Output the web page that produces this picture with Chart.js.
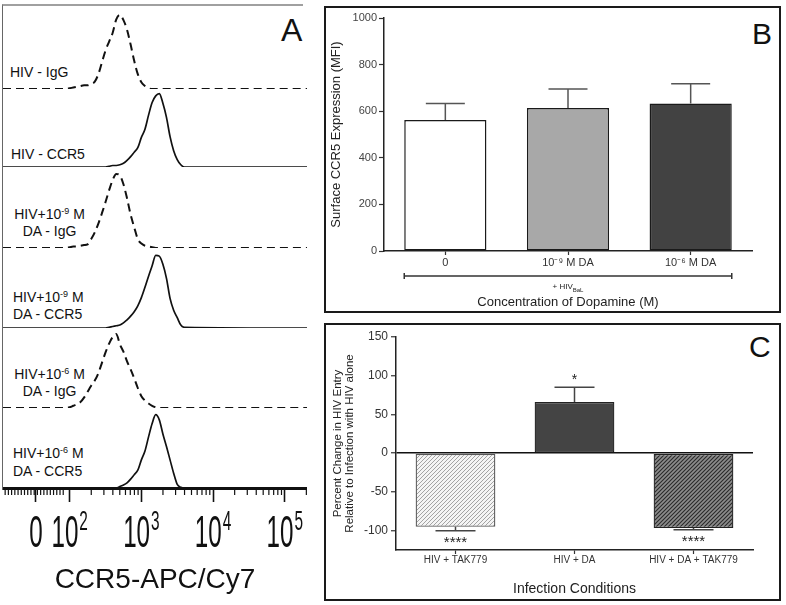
<!DOCTYPE html>
<html><head><meta charset="utf-8">
<script src="https://cdn.jsdelivr.net/npm/chart.js@4.4.1/dist/chart.umd.min.js"></script>
<style>
html,body{margin:0;padding:0;background:#fff;}
body{width:786px;height:605px;position:relative;overflow:hidden;font-family:"Liberation Sans",Arial,Helvetica,sans-serif;color:#111;}
canvas{position:absolute;}
.lbl{position:absolute;font-size:14px;line-height:17px;white-space:nowrap;color:#111;}
.lbl sup{font-size:9px;vertical-align:5px;line-height:0;}
.ctr{text-align:center;width:73px;}
.big{position:absolute;line-height:32px;color:#111;}
#frameA{position:absolute;left:2px;top:4px;width:300px;height:484px;border-top:2px solid #a0a0a0;border-left:1.5px solid #666;}
.box{position:absolute;border:2px solid #1a1a1a;box-sizing:border-box;}
</style></head><body>
<div id="frameA"></div>
<div class="box" style="left:324px;top:6px;width:457px;height:307px;"></div>
<div class="box" style="left:324px;top:323px;width:457px;height:278px;"></div>

<div class="lbl" style="left:10px;top:64px;">HIV - IgG</div>
<div class="lbl" style="left:11px;top:146px;">HIV - CCR5</div>
<div class="lbl ctr" style="left:13px;top:206px;">HIV+10<sup>-9</sup> M<br>DA - IgG</div>
<div class="lbl" style="left:13px;top:289px;">HIV+10<sup>-9</sup> M<br>DA - CCR5</div>
<div class="lbl ctr" style="left:13px;top:366px;">HIV+10<sup>-6</sup> M<br>DA - IgG</div>
<div class="lbl" style="left:13px;top:444px;line-height:18px;">HIV+10<sup>-6</sup> M<br>DA - CCR5</div>

<div class="big" style="left:281px;top:14px;font-size:32px;">A</div>
<div class="big" style="left:752px;top:18px;font-size:30px;">B</div>
<div class="big" style="left:749px;top:331px;font-size:30px;">C</div>

<script>
// ---------------- Panel A: flow cytometry histograms ----------------
// x values are log10 of CCR5-APC/Cy7 intensity (display units)
const logBins = [1.07,
  1.80,1.85,1.90,1.95,2.00,2.05,2.10,2.15,2.20,2.25,2.30,2.35,2.40,2.45,2.50,2.55,2.60,2.65,2.70,
  2.75,2.80,2.85,2.90,2.95,3.00,3.05,3.10,3.15,3.20,3.25,3.30,3.35,3.40,3.45,3.50,3.55,3.60,
  5.31];
// counts, % of mode
const hivIgG  = [0, 0,0,0,0, 1,2,3,4,5,5,7,10,20,36,52,64,76,94,100,93,80,60,38,20,9,4,1, 0,0,0,0,0,0,0,0,0,0, 0];
const hivCCR5 = [0, 0,0,0,0,0,0,0,0,0,0,0,0,0,0,0, 1,2,2,3,5,9,14,20,26,40,51,70,87,96,99,86,67,41,22,10,3, 0, 0];
const da9IgG  = [0, 0,0,0,0, 1,2,2,3,4,5,12,21,33,47,62,78,92,100,98,86,67,45,28,12,6,3,2,1, 0,0,0,0,0,0,0,0,0, 0];
const da9CCR5 = [0, 0,0,0,0,0,0,0,0,0,0,0,0,0,0,0, 1,2,3,4,7,11,16,22,30,41,55,70,84,98,97,86,67,40,24,14,4,1, 0];
const da6IgG  = [0, 0,0,0,0, 1,3,5,8,14,22,30,37,47,61,75,87,96,100,86,76,63,52,40,27,16,10,6,3,1, 0,0,0,0,0,0,0,0, 0];
const da6CCR5 = [0, 0,0,0,0,0,0,0,0,0,0,0,0,0,0,0,0,0, 0,2,4,7,12,18,24,38,50,69,87,99,92,73,56,38,20,5,1,0, 0];
const aTickPos = [1.53, 2, 3, 4, 5];
const aTickMain = ['0', '10', '10', '10', '10'];
const aTickExp = ['', '2', '3', '4', '5'];
const aXMin = 1.07, aXMax = 5.31;

// ---------------- Panel B ----------------
const bCats = ['0', '10⁻⁹ M DA', '10⁻⁶ M DA'];
const bMeans = [562, 614, 633];
const bSem = [71, 81, 85];

// ---------------- Panel C ----------------
const cCats = ['HIV + TAK779', 'HIV + DA', 'HIV + DA + TAK779'];
const cMeans = [-95, 66, -96.5];
const cSem = [5, 19, 2.5];
const cStars = ['****', '*', '****'];
const cTicks = [-100, -50, 0, 50, 100, 150];

Chart.defaults.font.family = '"Liberation Sans", Arial, Helvetica, sans-serif';
Chart.defaults.color = '#222';
Chart.defaults.animation = false;

// minor ticks of the logicle axis (axis decoration)
const aMinor = [];
for (let d = 1.10; d < 1.93; d += 0.045) aMinor.push(d);
for (let n = 2; n <= 5; n++) for (let k = 2; k <= 9; k++) { const v = n + Math.log10(k); if (v < aXMax) aMinor.push(v); }

const minorTicksPlugin = {
  id: 'minorTicks',
  afterDraw(chart) {
    const s = chart.scales.x, ctx = chart.ctx, y0 = s.top;
    ctx.save(); ctx.strokeStyle = '#111'; ctx.lineWidth = 1.2;
    aMinor.forEach(v => { const px = s.getPixelForValue(v); ctx.beginPath(); ctx.moveTo(px, y0); ctx.lineTo(px, y0 + 7); ctx.stroke(); });
    ctx.restore();
  }
};
// condensed tick labels (0, 10^2 ... 10^5) drawn at the scale's tick positions
const aLabelPlugin = {
  id: 'aLabels',
  afterDraw(chart) {
    const s = chart.scales.x, ctx = chart.ctx, base = s.top + 59, k = 0.55;
    const fMain = '44px "Liberation Sans", Arial', fExp = '28px "Liberation Sans", Arial';
    ctx.save(); ctx.fillStyle = '#111'; ctx.textBaseline = 'alphabetic'; ctx.textAlign = 'left';
    aTickPos.forEach((v, i) => {
      ctx.font = fMain; const wm = ctx.measureText(aTickMain[i]).width * k;
      ctx.font = fExp; const we = aTickExp[i] ? ctx.measureText(aTickExp[i]).width * k + 1 : 0;
      const x0 = s.getPixelForValue(v) - (wm + we) / 2;
      ctx.save(); ctx.translate(x0, base); ctx.scale(k, 1); ctx.font = fMain; ctx.fillText(aTickMain[i], 0, 0); ctx.restore();
      if (aTickExp[i]) { ctx.save(); ctx.translate(x0 + wm + 1, base - 17); ctx.scale(k, 1); ctx.font = fExp; ctx.fillText(aTickExp[i], 0, 0); ctx.restore(); }
    });
    ctx.restore();
  }
};

const aTraces = [hivIgG, hivCCR5, da9IgG, da9CCR5, da6IgG, da6CCR5];
const aDashed = [true, false, true, false, true, false];
const aBase = [89, 167, 248, 328, 408, 488];
aTraces.forEach((tr, i) => {
  const last = i === aTraces.length - 1;
  const cv = document.createElement('canvas');
  cv.width = 304; cv.height = last ? 197 : 82;
  cv.style.left = '3px'; cv.style.top = (aBase[i] - 80) + 'px';
  document.body.appendChild(cv);
  const xScale = { type: 'linear', min: aXMin, max: aXMax, display: last };
  if (last) Object.assign(xScale, {
    afterBuildTicks: s => { s.ticks = aTickPos.map(v => ({ value: v })); },
    afterFit: s => { s.height = 117; },
    border: { display: true, color: '#111', width: 3 },
    grid: { display: true, drawOnChartArea: false, drawTicks: true, tickLength: 14, tickWidth: 1.6, tickColor: '#111' },
    ticks: { display: false },
    title: { display: true, text: 'CCR5-APC/Cy7', color: '#111', font: { size: 28 }, padding: { top: 0, bottom: 8 } }
  });
  new Chart(cv, {
    type: 'line',
    data: { datasets: [{
      data: logBins.map((x, j) => ({ x: x, y: tr[j] })),
      borderColor: '#111', borderWidth: aDashed[i] ? 2 : 1.7,
      borderDash: aDashed[i] ? [8, 5] : [], pointRadius: 0, fill: false,
      cubicInterpolationMode: 'monotone'
    }] },
    options: {
      responsive: false, animation: false,
      layout: { padding: { top: 0, left: 0, right: 0, bottom: last ? 0 : 2 } },
      plugins: { legend: { display: false }, tooltip: { enabled: false } },
      scales: { y: { display: false, min: 0, max: 108 }, x: xScale }
    },
    plugins: last ? [minorTicksPlugin, aLabelPlugin] : []
  });
});

// ---------------- helpers for B and C ----------------
function errPlugin(means, errs, color, cap) {
  return {
    id: 'err',
    afterDatasetsDraw(chart) {
      const meta = chart.getDatasetMeta(0), y = chart.scales.y, ctx = chart.ctx;
      ctx.save(); ctx.strokeStyle = color; ctx.lineWidth = 1.5;
      meta.data.forEach((bar, i) => {
        const v = means[i], end = v >= 0 ? v + errs[i] : v - errs[i];
        const y0 = y.getPixelForValue(v), y1 = y.getPixelForValue(end);
        ctx.beginPath(); ctx.moveTo(bar.x, y0); ctx.lineTo(bar.x, y1);
        ctx.moveTo(bar.x - cap / 2, y1); ctx.lineTo(bar.x + cap / 2, y1); ctx.stroke();
      });
      ctx.restore();
    }
  };
}
function hatch(bg, fg, lw) {
  const c = document.createElement('canvas'); c.width = 4; c.height = 4;
  const x = c.getContext('2d');
  x.fillStyle = bg; x.fillRect(0, 0, 4, 4);
  x.strokeStyle = fg; x.lineWidth = lw;
  x.beginPath();
  x.moveTo(-1, 5); x.lineTo(5, -1);
  x.moveTo(-1, 1); x.lineTo(1, -1);
  x.moveTo(3, 5); x.lineTo(5, 3);
  x.stroke();
  return x.createPattern(c, 'repeat');
}

// ---------------- Panel B chart ----------------
const cvB = document.createElement('canvas');
cvB.width = 453; cvB.height = 303; cvB.style.left = '326px'; cvB.style.top = '8px';
document.body.appendChild(cvB);
const bracketPlugin = {
  id: 'bracket',
  afterDraw(chart) {
    const m = chart.getDatasetMeta(0).data, ctx = chart.ctx;
    const x0 = m[0].x - m[0].width / 2, x1 = m[2].x + m[2].width / 2;
    const yb = chart.chartArea.bottom + 25;
    ctx.save(); ctx.strokeStyle = '#333'; ctx.lineWidth = 1.5;
    ctx.beginPath(); ctx.moveTo(x0, yb); ctx.lineTo(x1, yb);
    ctx.moveTo(x0, yb - 3); ctx.lineTo(x0, yb + 3);
    ctx.moveTo(x1, yb - 3); ctx.lineTo(x1, yb + 3); ctx.stroke();
    const cx = (x0 + x1) / 2, ty = chart.chartArea.bottom + 36;
    const f1 = '8px "Liberation Sans", Arial', f2 = '6px "Liberation Sans", Arial';
    ctx.font = f1; const w1 = ctx.measureText('+ HIV').width;
    ctx.font = f2; const w2 = ctx.measureText('BaL').width;
    const sx = cx - (w1 + w2) / 2;
    ctx.fillStyle = '#222'; ctx.textBaseline = 'middle'; ctx.textAlign = 'left';
    ctx.font = f1; ctx.fillText('+ HIV', sx, ty);
    ctx.font = f2; ctx.fillText('BaL', sx + w1, ty + 3);
    ctx.restore();
  }
};
new Chart(cvB, {
  type: 'bar',
  data: { labels: bCats, datasets: [{ data: bMeans,
    backgroundColor: ['#ffffff', '#a8a8a8', '#424242'], borderColor: '#1a1a1a', borderWidth: 1.5,
    borderSkipped: false, barPercentage: 0.67, categoryPercentage: 1 }] },
  options: {
    responsive: false, animation: false,
    layout: { padding: { top: 10, right: 27, left: 0, bottom: 0 } },
    plugins: { legend: { display: false }, tooltip: { enabled: false } },
    scales: {
      x: { grid: { display: true, drawOnChartArea: false, offset: false, tickLength: 4, tickColor: '#333', tickWidth: 1.2 },
           border: { color: '#222', width: 1.5 },
           ticks: { font: { size: 11 }, color: '#333', padding: 1 },
           title: { display: true, text: 'Concentration of Dopamine (M)', font: { size: 13 }, color: '#222', padding: { top: 0, bottom: 1 } },
           afterFit: s => { s.height = 60; } },
      y: { min: 0, max: 1000,
           ticks: { stepSize: 200, font: { size: 11 }, color: '#444', padding: 2, callback: v => String(v) },
           grid: { drawOnChartArea: false, tickLength: 5, tickColor: '#333', tickWidth: 1.2 },
           border: { color: '#222', width: 1.5 },
           title: { display: true, text: 'Surface CCR5 Expression (MFI)', font: { size: 13 }, color: '#222', padding: { top: 3, bottom: 0 } },
           afterFit: s => { s.width = 58; } }
    }
  },
  plugins: [errPlugin(bMeans, bSem, '#555', 39), bracketPlugin]
});

// ---------------- Panel C chart ----------------
const cvC = document.createElement('canvas');
cvC.width = 453; cvC.height = 274; cvC.style.left = '326px'; cvC.style.top = '325px';
document.body.appendChild(cvC);
const starPlugin = {
  id: 'stars',
  afterDatasetsDraw(chart) {
    const meta = chart.getDatasetMeta(0), y = chart.scales.y, ctx = chart.ctx;
    ctx.save(); ctx.fillStyle = '#222'; ctx.textAlign = 'center'; ctx.textBaseline = 'alphabetic';
    meta.data.forEach((bar, i) => {
      const v = cMeans[i], end = v >= 0 ? v + cSem[i] : v - cSem[i];
      const py = y.getPixelForValue(end);
      if (v >= 0) { ctx.font = '14px "Liberation Sans", Arial'; ctx.fillText(cStars[i], bar.x, py - 3); }
      else { ctx.font = '15px "Liberation Sans", Arial'; ctx.fillText(cStars[i], bar.x, py + 16); }
    });
    ctx.restore();
  }
};
new Chart(cvC, {
  type: 'bar',
  data: { labels: cCats, datasets: [{ data: cMeans,
    backgroundColor: [hatch('#f4f4f4', '#9a9a9a', 0.9), '#444444', hatch('#8c8c8c', '#2a2a2a', 1.1)],
    borderColor: ['#555', '#222', '#222'], borderWidth: 1.3,
    borderSkipped: false, barPercentage: 0.67, categoryPercentage: 1 }] },
  options: {
    responsive: false, animation: false,
    layout: { padding: { top: 12, right: 26, left: 0, bottom: 0 } },
    plugins: { legend: { display: false }, tooltip: { enabled: false } },
    scales: {
      x: { grid: { display: true, drawOnChartArea: false, offset: false, tickLength: 4, tickColor: '#333', tickWidth: 1.2 },
           border: { color: '#222', width: 1.5 },
           ticks: { font: { size: 10 }, color: '#333', padding: 0 },
           title: { display: true, text: 'Infection Conditions', font: { size: 14 }, color: '#222', padding: { top: 0, bottom: 1 } },
           afterFit: s => { s.height = 49; } },
      y: { min: -125, max: 150,
           ticks: { stepSize: 50, font: { size: 12 }, color: '#333', padding: 3 },
           afterBuildTicks: s => { s.ticks = cTicks.map(v => ({ value: v })); },
           grid: { drawOnChartArea: true, lineWidth: 1.5, tickLength: 5, tickWidth: 1.2, tickColor: '#333',
                   color: c => (c.tick && c.tick.value === 0) ? '#111' : 'rgba(0,0,0,0)' },
           border: { color: '#222', width: 1.5 },
           title: { display: true, text: ['Percent Change in HIV Entry', 'Relative to Infection with HIV alone'],
                    font: { size: 11.5, lineHeight: 1.05 }, color: '#222', padding: { top: 6, bottom: 0 } },
           afterFit: s => { s.width = 70; } }
    }
  },
  plugins: [errPlugin(cMeans, cSem, '#444', 40), starPlugin]
});
</script>
</body></html>
